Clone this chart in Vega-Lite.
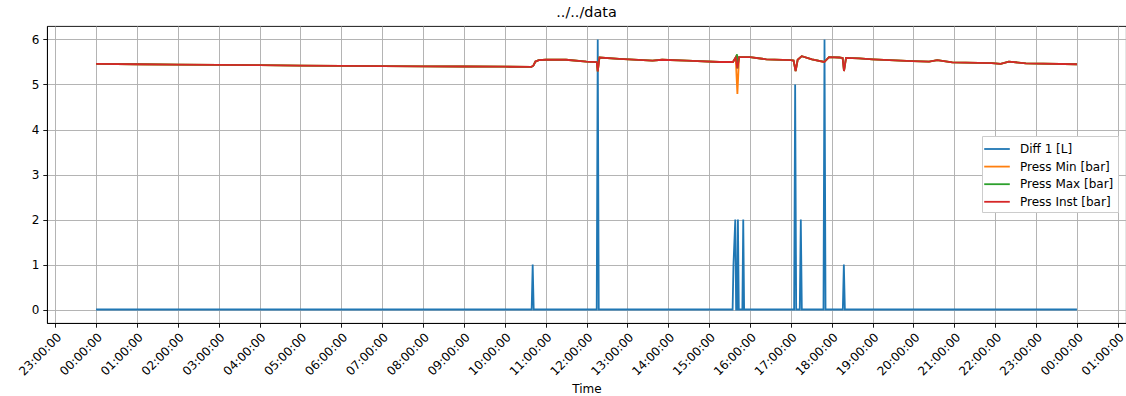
{
  "$schema": "https://vega.github.io/schema/vega-lite/v6.json",
  "autosize": "none",
  "width": 1079,
  "height": 297,
  "padding": {"left": 47, "top": 26, "right": 0, "bottom": 73},
  "background": "white",
  "title": {"text": "../../data", "font": "DejaVu Sans", "fontSize": 14.4, "fontWeight": "normal", "color": "black", "anchor": "middle", "offset": 6},
  "config": {
    "view": {"stroke": "black", "strokeWidth": 0.9},
    "axis": {
      "grid": true, "gridColor": "#b0b0b0", "gridWidth": 0.95,
      "domainColor": "black", "domainWidth": 0.9,
      "tickColor": "black", "tickSize": 4.2, "tickWidth": 0.9,
      "labelFont": "DejaVu Sans", "labelFontSize": 12, "labelColor": "black", "labelPadding": 4,
      "titleFont": "DejaVu Sans", "titleFontSize": 12, "titleFontWeight": "normal", "titleColor": "black"
    }
  },
  "data": {"values": [
      {"s": "Diff 1 [L]", "t": "2023-01-02T00:00:00Z", "v": 0},
      {"s": "Diff 1 [L]", "t": "2023-01-02T10:39:30Z", "v": 0},
      {"s": "Diff 1 [L]", "t": "2023-01-02T10:41:00Z", "v": 1},
      {"s": "Diff 1 [L]", "t": "2023-01-02T10:42:30Z", "v": 0},
      {"s": "Diff 1 [L]", "t": "2023-01-02T12:15:00Z", "v": 0},
      {"s": "Diff 1 [L]", "t": "2023-01-02T12:16:30Z", "v": 6},
      {"s": "Diff 1 [L]", "t": "2023-01-02T12:18:00Z", "v": 0},
      {"s": "Diff 1 [L]", "t": "2023-01-02T15:34:30Z", "v": 0},
      {"s": "Diff 1 [L]", "t": "2023-01-02T15:35:45Z", "v": 1},
      {"s": "Diff 1 [L]", "t": "2023-01-02T15:38:24Z", "v": 2},
      {"s": "Diff 1 [L]", "t": "2023-01-02T15:39:40Z", "v": 0},
      {"s": "Diff 1 [L]", "t": "2023-01-02T15:41:00Z", "v": 0},
      {"s": "Diff 1 [L]", "t": "2023-01-02T15:42:18Z", "v": 2},
      {"s": "Diff 1 [L]", "t": "2023-01-02T15:43:36Z", "v": 0},
      {"s": "Diff 1 [L]", "t": "2023-01-02T15:48:48Z", "v": 0},
      {"s": "Diff 1 [L]", "t": "2023-01-02T15:50:06Z", "v": 2},
      {"s": "Diff 1 [L]", "t": "2023-01-02T15:51:24Z", "v": 0},
      {"s": "Diff 1 [L]", "t": "2023-01-02T17:04:48Z", "v": 0},
      {"s": "Diff 1 [L]", "t": "2023-01-02T17:06:18Z", "v": 5},
      {"s": "Diff 1 [L]", "t": "2023-01-02T17:07:48Z", "v": 0},
      {"s": "Diff 1 [L]", "t": "2023-01-02T17:13:06Z", "v": 0},
      {"s": "Diff 1 [L]", "t": "2023-01-02T17:14:36Z", "v": 2},
      {"s": "Diff 1 [L]", "t": "2023-01-02T17:16:06Z", "v": 0},
      {"s": "Diff 1 [L]", "t": "2023-01-02T17:47:54Z", "v": 0},
      {"s": "Diff 1 [L]", "t": "2023-01-02T17:49:24Z", "v": 6},
      {"s": "Diff 1 [L]", "t": "2023-01-02T17:50:54Z", "v": 0},
      {"s": "Diff 1 [L]", "t": "2023-01-02T18:16:18Z", "v": 0},
      {"s": "Diff 1 [L]", "t": "2023-01-02T18:17:48Z", "v": 1},
      {"s": "Diff 1 [L]", "t": "2023-01-02T18:19:18Z", "v": 0},
      {"s": "Diff 1 [L]", "t": "2023-01-03T00:00:00Z", "v": 0},

      {"s": "Press Min [bar]", "t": "2023-01-02T00:00:00Z", "v": 5.46},
      {"s": "Press Min [bar]", "t": "2023-01-02T01:00:00Z", "v": 5.45},
      {"s": "Press Min [bar]", "t": "2023-01-02T02:00:00Z", "v": 5.44},
      {"s": "Press Min [bar]", "t": "2023-01-02T03:00:00Z", "v": 5.435},
      {"s": "Press Min [bar]", "t": "2023-01-02T04:00:00Z", "v": 5.43},
      {"s": "Press Min [bar]", "t": "2023-01-02T05:00:00Z", "v": 5.42},
      {"s": "Press Min [bar]", "t": "2023-01-02T06:00:00Z", "v": 5.415},
      {"s": "Press Min [bar]", "t": "2023-01-02T07:00:00Z", "v": 5.41},
      {"s": "Press Min [bar]", "t": "2023-01-02T08:00:00Z", "v": 5.405},
      {"s": "Press Min [bar]", "t": "2023-01-02T09:00:00Z", "v": 5.40},
      {"s": "Press Min [bar]", "t": "2023-01-02T10:00:00Z", "v": 5.395},
      {"s": "Press Min [bar]", "t": "2023-01-02T10:39:00Z", "v": 5.39},
      {"s": "Press Min [bar]", "t": "2023-01-02T10:42:00Z", "v": 5.42},
      {"s": "Press Min [bar]", "t": "2023-01-02T10:45:00Z", "v": 5.51},
      {"s": "Press Min [bar]", "t": "2023-01-02T10:50:00Z", "v": 5.54},
      {"s": "Press Min [bar]", "t": "2023-01-02T11:00:00Z", "v": 5.55},
      {"s": "Press Min [bar]", "t": "2023-01-02T11:30:00Z", "v": 5.55},
      {"s": "Press Min [bar]", "t": "2023-01-02T12:00:00Z", "v": 5.51},
      {"s": "Press Min [bar]", "t": "2023-01-02T12:15:00Z", "v": 5.50},
      {"s": "Press Min [bar]", "t": "2023-01-02T12:16:30Z", "v": 5.29},
      {"s": "Press Min [bar]", "t": "2023-01-02T12:19:00Z", "v": 5.60},
      {"s": "Press Min [bar]", "t": "2023-01-02T12:48:00Z", "v": 5.57},
      {"s": "Press Min [bar]", "t": "2023-01-02T13:37:00Z", "v": 5.53},
      {"s": "Press Min [bar]", "t": "2023-01-02T13:51:00Z", "v": 5.55},
      {"s": "Press Min [bar]", "t": "2023-01-02T14:27:00Z", "v": 5.53},
      {"s": "Press Min [bar]", "t": "2023-01-02T15:15:00Z", "v": 5.50},
      {"s": "Press Min [bar]", "t": "2023-01-02T15:35:00Z", "v": 5.50},
      {"s": "Press Min [bar]", "t": "2023-01-02T15:39:00Z", "v": 5.60},
      {"s": "Press Min [bar]", "t": "2023-01-02T15:41:30Z", "v": 4.79},
      {"s": "Press Min [bar]", "t": "2023-01-02T15:44:00Z", "v": 5.61},
      {"s": "Press Min [bar]", "t": "2023-01-02T16:00:00Z", "v": 5.61},
      {"s": "Press Min [bar]", "t": "2023-01-02T16:24:00Z", "v": 5.56},
      {"s": "Press Min [bar]", "t": "2023-01-02T17:00:00Z", "v": 5.54},
      {"s": "Press Min [bar]", "t": "2023-01-02T17:04:00Z", "v": 5.53},
      {"s": "Press Min [bar]", "t": "2023-01-02T17:07:00Z", "v": 5.30},
      {"s": "Press Min [bar]", "t": "2023-01-02T17:10:00Z", "v": 5.55},
      {"s": "Press Min [bar]", "t": "2023-01-02T17:16:00Z", "v": 5.63},
      {"s": "Press Min [bar]", "t": "2023-01-02T17:31:00Z", "v": 5.56},
      {"s": "Press Min [bar]", "t": "2023-01-02T17:49:00Z", "v": 5.50},
      {"s": "Press Min [bar]", "t": "2023-01-02T17:56:00Z", "v": 5.61},
      {"s": "Press Min [bar]", "t": "2023-01-02T18:11:00Z", "v": 5.60},
      {"s": "Press Min [bar]", "t": "2023-01-02T18:16:00Z", "v": 5.59},
      {"s": "Press Min [bar]", "t": "2023-01-02T18:18:00Z", "v": 5.30},
      {"s": "Press Min [bar]", "t": "2023-01-02T18:21:00Z", "v": 5.59},
      {"s": "Press Min [bar]", "t": "2023-01-02T18:40:00Z", "v": 5.58},
      {"s": "Press Min [bar]", "t": "2023-01-02T19:00:00Z", "v": 5.56},
      {"s": "Press Min [bar]", "t": "2023-01-02T19:58:00Z", "v": 5.52},
      {"s": "Press Min [bar]", "t": "2023-01-02T20:23:00Z", "v": 5.51},
      {"s": "Press Min [bar]", "t": "2023-01-02T20:35:00Z", "v": 5.54},
      {"s": "Press Min [bar]", "t": "2023-01-02T20:57:00Z", "v": 5.49},
      {"s": "Press Min [bar]", "t": "2023-01-02T21:55:00Z", "v": 5.475},
      {"s": "Press Min [bar]", "t": "2023-01-02T22:08:00Z", "v": 5.46},
      {"s": "Press Min [bar]", "t": "2023-01-02T22:20:00Z", "v": 5.51},
      {"s": "Press Min [bar]", "t": "2023-01-02T22:45:00Z", "v": 5.47},
      {"s": "Press Min [bar]", "t": "2023-01-03T00:00:00Z", "v": 5.45},

      {"s": "Press Max [bar]", "t": "2023-01-02T00:00:00Z", "v": 5.46},
      {"s": "Press Max [bar]", "t": "2023-01-02T01:00:00Z", "v": 5.45},
      {"s": "Press Max [bar]", "t": "2023-01-02T02:00:00Z", "v": 5.44},
      {"s": "Press Max [bar]", "t": "2023-01-02T03:00:00Z", "v": 5.435},
      {"s": "Press Max [bar]", "t": "2023-01-02T04:00:00Z", "v": 5.43},
      {"s": "Press Max [bar]", "t": "2023-01-02T05:00:00Z", "v": 5.42},
      {"s": "Press Max [bar]", "t": "2023-01-02T06:00:00Z", "v": 5.415},
      {"s": "Press Max [bar]", "t": "2023-01-02T07:00:00Z", "v": 5.41},
      {"s": "Press Max [bar]", "t": "2023-01-02T08:00:00Z", "v": 5.405},
      {"s": "Press Max [bar]", "t": "2023-01-02T09:00:00Z", "v": 5.40},
      {"s": "Press Max [bar]", "t": "2023-01-02T10:00:00Z", "v": 5.395},
      {"s": "Press Max [bar]", "t": "2023-01-02T10:39:00Z", "v": 5.39},
      {"s": "Press Max [bar]", "t": "2023-01-02T10:42:00Z", "v": 5.42},
      {"s": "Press Max [bar]", "t": "2023-01-02T10:45:00Z", "v": 5.51},
      {"s": "Press Max [bar]", "t": "2023-01-02T10:50:00Z", "v": 5.54},
      {"s": "Press Max [bar]", "t": "2023-01-02T11:00:00Z", "v": 5.55},
      {"s": "Press Max [bar]", "t": "2023-01-02T11:30:00Z", "v": 5.55},
      {"s": "Press Max [bar]", "t": "2023-01-02T12:00:00Z", "v": 5.51},
      {"s": "Press Max [bar]", "t": "2023-01-02T12:15:00Z", "v": 5.50},
      {"s": "Press Max [bar]", "t": "2023-01-02T12:16:30Z", "v": 5.29},
      {"s": "Press Max [bar]", "t": "2023-01-02T12:19:00Z", "v": 5.60},
      {"s": "Press Max [bar]", "t": "2023-01-02T12:48:00Z", "v": 5.57},
      {"s": "Press Max [bar]", "t": "2023-01-02T13:37:00Z", "v": 5.53},
      {"s": "Press Max [bar]", "t": "2023-01-02T13:51:00Z", "v": 5.55},
      {"s": "Press Max [bar]", "t": "2023-01-02T14:27:00Z", "v": 5.53},
      {"s": "Press Max [bar]", "t": "2023-01-02T15:15:00Z", "v": 5.50},
      {"s": "Press Max [bar]", "t": "2023-01-02T15:35:00Z", "v": 5.50},
      {"s": "Press Max [bar]", "t": "2023-01-02T15:39:00Z", "v": 5.60},
      {"s": "Press Max [bar]", "t": "2023-01-02T15:41:00Z", "v": 5.67},
      {"s": "Press Max [bar]", "t": "2023-01-02T15:41:30Z", "v": 5.36},
      {"s": "Press Max [bar]", "t": "2023-01-02T15:44:00Z", "v": 5.61},
      {"s": "Press Max [bar]", "t": "2023-01-02T16:00:00Z", "v": 5.61},
      {"s": "Press Max [bar]", "t": "2023-01-02T16:24:00Z", "v": 5.56},
      {"s": "Press Max [bar]", "t": "2023-01-02T17:00:00Z", "v": 5.54},
      {"s": "Press Max [bar]", "t": "2023-01-02T17:04:00Z", "v": 5.53},
      {"s": "Press Max [bar]", "t": "2023-01-02T17:07:00Z", "v": 5.30},
      {"s": "Press Max [bar]", "t": "2023-01-02T17:10:00Z", "v": 5.55},
      {"s": "Press Max [bar]", "t": "2023-01-02T17:16:00Z", "v": 5.63},
      {"s": "Press Max [bar]", "t": "2023-01-02T17:31:00Z", "v": 5.56},
      {"s": "Press Max [bar]", "t": "2023-01-02T17:49:00Z", "v": 5.50},
      {"s": "Press Max [bar]", "t": "2023-01-02T17:56:00Z", "v": 5.61},
      {"s": "Press Max [bar]", "t": "2023-01-02T18:11:00Z", "v": 5.60},
      {"s": "Press Max [bar]", "t": "2023-01-02T18:16:00Z", "v": 5.59},
      {"s": "Press Max [bar]", "t": "2023-01-02T18:18:00Z", "v": 5.30},
      {"s": "Press Max [bar]", "t": "2023-01-02T18:21:00Z", "v": 5.59},
      {"s": "Press Max [bar]", "t": "2023-01-02T18:40:00Z", "v": 5.58},
      {"s": "Press Max [bar]", "t": "2023-01-02T19:00:00Z", "v": 5.56},
      {"s": "Press Max [bar]", "t": "2023-01-02T19:58:00Z", "v": 5.52},
      {"s": "Press Max [bar]", "t": "2023-01-02T20:23:00Z", "v": 5.51},
      {"s": "Press Max [bar]", "t": "2023-01-02T20:35:00Z", "v": 5.54},
      {"s": "Press Max [bar]", "t": "2023-01-02T20:57:00Z", "v": 5.49},
      {"s": "Press Max [bar]", "t": "2023-01-02T21:55:00Z", "v": 5.475},
      {"s": "Press Max [bar]", "t": "2023-01-02T22:08:00Z", "v": 5.46},
      {"s": "Press Max [bar]", "t": "2023-01-02T22:20:00Z", "v": 5.51},
      {"s": "Press Max [bar]", "t": "2023-01-02T22:45:00Z", "v": 5.47},
      {"s": "Press Max [bar]", "t": "2023-01-03T00:00:00Z", "v": 5.45},

      {"s": "Press Inst [bar]", "t": "2023-01-02T00:00:00Z", "v": 5.46},
      {"s": "Press Inst [bar]", "t": "2023-01-02T01:00:00Z", "v": 5.45},
      {"s": "Press Inst [bar]", "t": "2023-01-02T02:00:00Z", "v": 5.44},
      {"s": "Press Inst [bar]", "t": "2023-01-02T03:00:00Z", "v": 5.435},
      {"s": "Press Inst [bar]", "t": "2023-01-02T04:00:00Z", "v": 5.43},
      {"s": "Press Inst [bar]", "t": "2023-01-02T05:00:00Z", "v": 5.42},
      {"s": "Press Inst [bar]", "t": "2023-01-02T06:00:00Z", "v": 5.415},
      {"s": "Press Inst [bar]", "t": "2023-01-02T07:00:00Z", "v": 5.41},
      {"s": "Press Inst [bar]", "t": "2023-01-02T08:00:00Z", "v": 5.405},
      {"s": "Press Inst [bar]", "t": "2023-01-02T09:00:00Z", "v": 5.40},
      {"s": "Press Inst [bar]", "t": "2023-01-02T10:00:00Z", "v": 5.395},
      {"s": "Press Inst [bar]", "t": "2023-01-02T10:39:00Z", "v": 5.39},
      {"s": "Press Inst [bar]", "t": "2023-01-02T10:42:00Z", "v": 5.42},
      {"s": "Press Inst [bar]", "t": "2023-01-02T10:45:00Z", "v": 5.51},
      {"s": "Press Inst [bar]", "t": "2023-01-02T10:50:00Z", "v": 5.54},
      {"s": "Press Inst [bar]", "t": "2023-01-02T11:00:00Z", "v": 5.55},
      {"s": "Press Inst [bar]", "t": "2023-01-02T11:30:00Z", "v": 5.55},
      {"s": "Press Inst [bar]", "t": "2023-01-02T12:00:00Z", "v": 5.51},
      {"s": "Press Inst [bar]", "t": "2023-01-02T12:15:00Z", "v": 5.50},
      {"s": "Press Inst [bar]", "t": "2023-01-02T12:16:30Z", "v": 5.29},
      {"s": "Press Inst [bar]", "t": "2023-01-02T12:19:00Z", "v": 5.60},
      {"s": "Press Inst [bar]", "t": "2023-01-02T12:48:00Z", "v": 5.57},
      {"s": "Press Inst [bar]", "t": "2023-01-02T13:37:00Z", "v": 5.53},
      {"s": "Press Inst [bar]", "t": "2023-01-02T13:51:00Z", "v": 5.55},
      {"s": "Press Inst [bar]", "t": "2023-01-02T14:27:00Z", "v": 5.53},
      {"s": "Press Inst [bar]", "t": "2023-01-02T15:15:00Z", "v": 5.50},
      {"s": "Press Inst [bar]", "t": "2023-01-02T15:35:00Z", "v": 5.50},
      {"s": "Press Inst [bar]", "t": "2023-01-02T15:39:00Z", "v": 5.60},
      {"s": "Press Inst [bar]", "t": "2023-01-02T15:41:30Z", "v": 5.36},
      {"s": "Press Inst [bar]", "t": "2023-01-02T15:44:00Z", "v": 5.61},
      {"s": "Press Inst [bar]", "t": "2023-01-02T16:00:00Z", "v": 5.61},
      {"s": "Press Inst [bar]", "t": "2023-01-02T16:24:00Z", "v": 5.56},
      {"s": "Press Inst [bar]", "t": "2023-01-02T17:00:00Z", "v": 5.54},
      {"s": "Press Inst [bar]", "t": "2023-01-02T17:04:00Z", "v": 5.53},
      {"s": "Press Inst [bar]", "t": "2023-01-02T17:07:00Z", "v": 5.30},
      {"s": "Press Inst [bar]", "t": "2023-01-02T17:10:00Z", "v": 5.55},
      {"s": "Press Inst [bar]", "t": "2023-01-02T17:16:00Z", "v": 5.63},
      {"s": "Press Inst [bar]", "t": "2023-01-02T17:31:00Z", "v": 5.56},
      {"s": "Press Inst [bar]", "t": "2023-01-02T17:49:00Z", "v": 5.50},
      {"s": "Press Inst [bar]", "t": "2023-01-02T17:56:00Z", "v": 5.61},
      {"s": "Press Inst [bar]", "t": "2023-01-02T18:11:00Z", "v": 5.60},
      {"s": "Press Inst [bar]", "t": "2023-01-02T18:16:00Z", "v": 5.59},
      {"s": "Press Inst [bar]", "t": "2023-01-02T18:18:00Z", "v": 5.30},
      {"s": "Press Inst [bar]", "t": "2023-01-02T18:21:00Z", "v": 5.59},
      {"s": "Press Inst [bar]", "t": "2023-01-02T18:40:00Z", "v": 5.58},
      {"s": "Press Inst [bar]", "t": "2023-01-02T19:00:00Z", "v": 5.56},
      {"s": "Press Inst [bar]", "t": "2023-01-02T19:58:00Z", "v": 5.52},
      {"s": "Press Inst [bar]", "t": "2023-01-02T20:23:00Z", "v": 5.51},
      {"s": "Press Inst [bar]", "t": "2023-01-02T20:35:00Z", "v": 5.54},
      {"s": "Press Inst [bar]", "t": "2023-01-02T20:57:00Z", "v": 5.49},
      {"s": "Press Inst [bar]", "t": "2023-01-02T21:55:00Z", "v": 5.475},
      {"s": "Press Inst [bar]", "t": "2023-01-02T22:08:00Z", "v": 5.46},
      {"s": "Press Inst [bar]", "t": "2023-01-02T22:20:00Z", "v": 5.51},
      {"s": "Press Inst [bar]", "t": "2023-01-02T22:45:00Z", "v": 5.47},
      {"s": "Press Inst [bar]", "t": "2023-01-03T00:00:00Z", "v": 5.45}
  ]},
  "encoding": {
    "x": {
      "field": "t", "type": "temporal", "title": "Time",
      "scale": {"type": "utc", "domain": [1672613280000, 1672708320000]},
      "axis": {
        "values": [1672614000000, 1672617600000, 1672621200000, 1672624800000, 1672628400000, 1672632000000, 1672635600000, 1672639200000, 1672642800000, 1672646400000, 1672650000000, 1672653600000, 1672657200000, 1672660800000, 1672664400000, 1672668000000, 1672671600000, 1672675200000, 1672678800000, 1672682400000, 1672686000000, 1672689600000, 1672693200000, 1672696800000, 1672700400000, 1672704000000, 1672707600000],
        "format": "%H:%M:%S",
        "labelAngle": -45,
        "labelOverlap": false, "titlePadding": 6
      }
    },
    "y": {
      "field": "v", "type": "quantitative", "title": null,
      "scale": {"domain": [-0.3, 6.3], "nice": false, "zero": false},
      "axis": {"values": [0, 1, 2, 3, 4, 5, 6]}
    },
    "color": {
      "field": "s", "type": "nominal",
      "scale": {
        "domain": ["Diff 1 [L]", "Press Min [bar]", "Press Max [bar]", "Press Inst [bar]"],
        "range": ["#1f77b4", "#ff7f0e", "#2ca02c", "#d62728"]
      },
      "legend": {
        "title": null, "orient": "none", "legendX": 935, "legendY": 110,
        "symbolType": "M-1.6,0H1.6", "symbolSize": 256, "symbolStrokeWidth": 1.8, "symbolOffset": 2,
        "labelFont": "DejaVu Sans", "labelFontSize": 12, "labelColor": "black",
        "labelOffset": 14, "rowPadding": 2.6,
        "fillColor": "white", "strokeColor": "#cccccc", "padding": 4
      }
    }
  },
  "layer": [
    {"transform": [{"filter": "datum.s == 'Diff 1 [L]'"}], "mark": {"type": "line", "strokeWidth": 1.8}},
    {"transform": [{"filter": "datum.s == 'Press Min [bar]'"}], "mark": {"type": "line", "strokeWidth": 1.8}},
    {"transform": [{"filter": "datum.s == 'Press Max [bar]'"}], "mark": {"type": "line", "strokeWidth": 1.8}},
    {"transform": [{"filter": "datum.s == 'Press Inst [bar]'"}], "mark": {"type": "line", "strokeWidth": 1.8}}
  ]
}
